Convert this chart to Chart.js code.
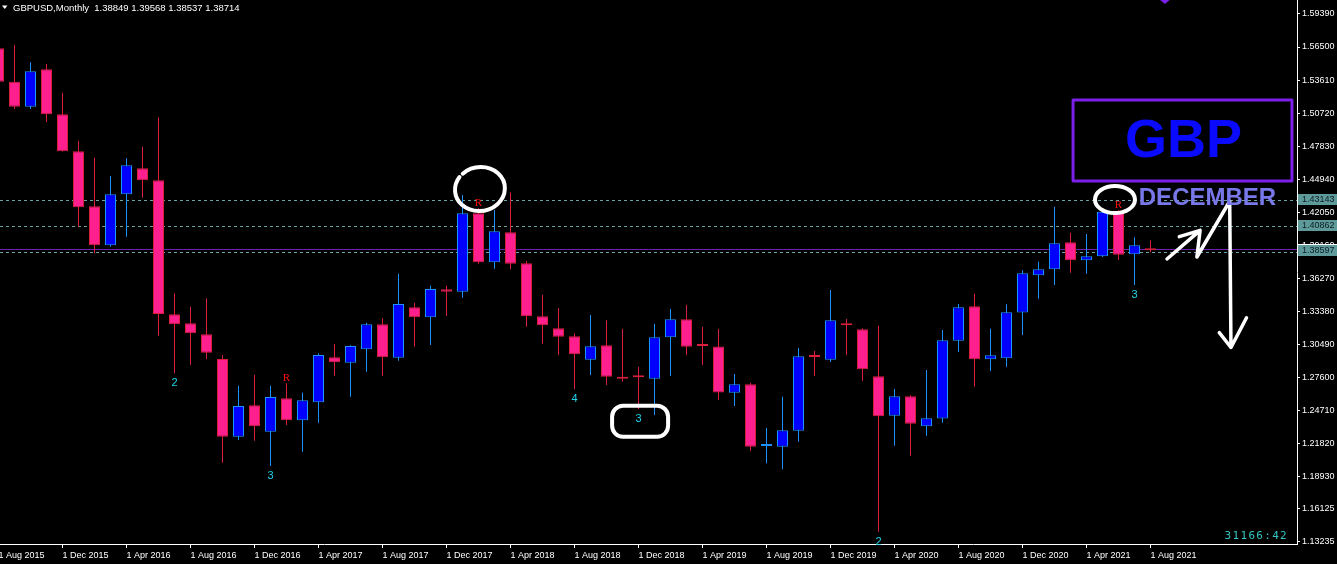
<!DOCTYPE html>
<html lang="en">
<head>
<meta charset="UTF-8">
<title>GBPUSD, Monthly</title>
<script src="https://cdn.jsdelivr.net/npm/chart.js"></script>
<style>
  html, body { margin: 0; padding: 0; background: #000; overflow: hidden; }
  canvas { display: block; }
</style>
</head>
<body>
<canvas id="chart" width="1337" height="564"></canvas>
<script>
// one candle per month, Aug 2015 .. Aug 2021
const months = [
  'Aug 2015','Sep 2015','Oct 2015','Nov 2015','Dec 2015',
  'Jan 2016','Feb 2016','Mar 2016','Apr 2016','May 2016','Jun 2016','Jul 2016','Aug 2016','Sep 2016','Oct 2016','Nov 2016','Dec 2016',
  'Jan 2017','Feb 2017','Mar 2017','Apr 2017','May 2017','Jun 2017','Jul 2017','Aug 2017','Sep 2017','Oct 2017','Nov 2017','Dec 2017',
  'Jan 2018','Feb 2018','Mar 2018','Apr 2018','May 2018','Jun 2018','Jul 2018','Aug 2018','Sep 2018','Oct 2018','Nov 2018','Dec 2018',
  'Jan 2019','Feb 2019','Mar 2019','Apr 2019','May 2019','Jun 2019','Jul 2019','Aug 2019','Sep 2019','Oct 2019','Nov 2019','Dec 2019',
  'Jan 2020','Feb 2020','Mar 2020','Apr 2020','May 2020','Jun 2020','Jul 2020','Aug 2020','Sep 2020','Oct 2020','Nov 2020','Dec 2020',
  'Jan 2021','Feb 2021','Mar 2021','Apr 2021','May 2021','Jun 2021','Jul 2021','Aug 2021'
];
const open = [
  1.5639,1.5346,1.5128,1.5455,1.5061,
  1.4737,1.4256,1.3915,1.4361,1.4589,1.4483,1.3311,1.3232,1.3136,1.2919,1.2239,1.2514,
  1.2283,1.2575,1.2383,1.2540,1.2934,1.2887,1.3004,1.3223,1.2931,1.3372,1.3284,1.3529,
  1.3508,1.4195,1.3766,1.4028,1.3757,1.3293,1.3188,1.3118,1.2913,1.3039,1.2764,1.2764,
  1.2747,1.3109,1.3267,1.3042,1.3029,1.2625,1.2698,1.2158,1.2152,1.2292,1.2946,1.2913,
  1.3232,1.3179,1.2768,1.2423,1.2593,1.2330,1.2398,1.3080,1.3381,1.2917,1.2925,1.3326,
  1.3652,1.3704,1.3941,1.3783,1.3818,1.4209,1.3836,1.38849
];
const high = [
  1.5800,1.5668,1.5516,1.5501,1.5250,
  1.4830,1.4681,1.4521,1.4676,1.4778,1.5035,1.3494,1.3377,1.3451,1.2954,1.2686,1.2782,
  1.2686,1.2707,1.2624,1.2969,1.3051,1.3040,1.3237,1.3276,1.3666,1.3412,1.3561,1.3561,
  1.4355,1.4241,1.4224,1.4378,1.3777,1.3482,1.3366,1.3144,1.3304,1.3258,1.3182,1.2852,
  1.3228,1.3357,1.3392,1.3202,1.3182,1.2788,1.2712,1.2315,1.2589,1.3016,1.2989,1.3523,
  1.3269,1.3188,1.3211,1.2657,1.2602,1.2823,1.3173,1.3401,1.3491,1.3185,1.3398,1.3696,
  1.3771,1.4252,1.4025,1.4013,1.4234,1.4224,1.3985,1.39568
];
const low = [
  1.5330,1.5108,1.5108,1.4994,1.4735,
  1.4077,1.3845,1.3902,1.3990,1.4331,1.3123,1.2794,1.2867,1.2917,1.2012,1.2210,1.2204,
  1.1983,1.2342,1.2108,1.2362,1.2773,1.2589,1.2808,1.2773,1.2904,1.3027,1.3042,1.3296,
  1.3456,1.3754,1.3710,1.3704,1.3202,1.3053,1.2954,1.2654,1.2779,1.2692,1.2721,1.2479,
  1.2429,1.2771,1.2954,1.2867,1.2561,1.2508,1.2114,1.2006,1.1954,1.2196,1.2771,1.2893,
  1.2954,1.2727,1.1408,1.2161,1.2073,1.2248,1.2362,1.2981,1.2677,1.2814,1.2852,1.3129,
  1.3447,1.3567,1.3675,1.3666,1.3812,1.3786,1.3567,1.38537
];
const close = [
  1.5346,1.5128,1.5437,1.5061,1.4737,
  1.4247,1.3915,1.4361,1.4615,1.4483,1.3313,1.3223,1.3144,1.2974,1.2239,1.2508,1.2330,
  1.2587,1.2383,1.2558,1.2954,1.2890,1.3033,1.3223,1.2934,1.3401,1.3284,1.3532,1.3508,
  1.4195,1.3766,1.4037,1.3754,1.3293,1.3214,1.3115,1.2961,1.3031,1.2764,1.2747,1.2759,
  1.3109,1.3267,1.3027,1.3033,1.2626,1.2698,1.2152,1.2162,1.2295,1.2943,1.2937,1.3258,
  1.3214,1.2829,1.2418,1.2593,1.2353,1.2400,1.3083,1.3372,1.2917,1.2952,1.3328,1.3669,
  1.3704,1.3932,1.3783,1.3818,1.4209,1.3832,1.3915,1.38714
];

// axis ticks
const xTickIdx = [0,4,8,12,16,20,24,28,32,36,40,44,48,52,56,60,64,68,72];
const xTickLabels = ['1 Aug 2015','1 Dec 2015','1 Apr 2016','1 Aug 2016','1 Dec 2016','1 Apr 2017','1 Aug 2017',
  '1 Dec 2017','1 Apr 2018','1 Aug 2018','1 Dec 2018','1 Apr 2019','1 Aug 2019','1 Dec 2019','1 Apr 2020',
  '1 Aug 2020','1 Dec 2020','1 Apr 2021','1 Aug 2021'];
const yTicks = [1.13235,1.16125,1.18930,1.21820,1.24710,1.27600,1.30490,1.33380,1.36270,1.39160,
  1.42050,1.44940,1.47830,1.50720,1.53610,1.56500,1.59390];

// horizontal levels drawn on the chart
const levels = [1.43143, 1.40862, 1.38597];

// indicator marks: "R" above, wave numbers below
const rIdx = [18, 30, 70];
const waveIdx = [11, 17, 36, 40, 55, 71];
const waveText = ['2', '3', '4', '3', '2', '3'];

const BULL_FILL = '#0000ff', BULL_LINE = '#1e90ff';
const BEAR_FILL = '#ff1f8e', BEAR_LINE = '#d8203c';

const isBull = close.map((c, i) => c >= open[i]);

const overlay = {
  id: 'overlay',
  beforeDatasetsDraw(chart) {
    const { ctx, chartArea, scales: { y } } = chart;
    ctx.save();
    ctx.lineWidth = 1;
    ctx.strokeStyle = '#6aa3a3';
    ctx.setLineDash([3, 3]);
    levels.forEach(v => {
      const py = Math.round(y.getPixelForValue(v)) + 0.5;
      ctx.beginPath(); ctx.moveTo(chartArea.left, py); ctx.lineTo(chartArea.right, py); ctx.stroke();
    });
    ctx.setLineDash([]);
    // last close line
    ctx.strokeStyle = '#6c1fb0';
    const cy = Math.round(y.getPixelForValue(close[close.length - 1])) - 0.5;
    ctx.beginPath(); ctx.moveTo(chartArea.left, cy); ctx.lineTo(chartArea.right, cy); ctx.stroke();
    ctx.restore();
  },
  afterDatasetsDraw(chart) {
    const { ctx, scales: { x, y } } = chart;
    const px = i => x.getPixelForValue(i);
    const py = v => y.getPixelForValue(v);
    ctx.save();
    ctx.textAlign = 'center';
    ctx.textBaseline = 'middle';

    // R marks
    ctx.fillStyle = '#ff1010';
    ctx.font = '11px "Liberation Serif"';
    rIdx.forEach(i => ctx.fillText('R', px(i), py(high[i]) - 5));

    // wave numbers
    ctx.fillStyle = '#22d4ea';
    ctx.font = '11px "Liberation Sans"';
    waveIdx.forEach((i, k) => ctx.fillText(waveText[k], px(i), py(low[i]) + 10));

    // hand drawn white marks
    ctx.strokeStyle = '#ffffff';
    ctx.lineWidth = 4;
    ctx.lineCap = 'round';
    ctx.lineJoin = 'round';
    ctx.beginPath();
    ctx.ellipse(px(30.09), py(1.4407), 25, 22, -0.15, -2.2, -2.2 + Math.PI * 2 - 0.2);
    ctx.stroke();
    ctx.beginPath();
    ctx.ellipse(px(69.78), py(1.4315), 20, 13.5, 0, 0, Math.PI * 2);
    ctx.stroke();
    ctx.beginPath();
    ctx.roundRect(px(38.35), py(1.2510), 56, 31, 11);
    ctx.stroke();

    // arrows
    ctx.lineWidth = 3.5;
    ctx.beginPath();
    ctx.moveTo(px(73.03), py(1.3795)); ctx.lineTo(px(75.1), py(1.4045));
    ctx.moveTo(px(73.8), py(1.3990)); ctx.lineTo(px(75.1), py(1.4045)); ctx.lineTo(px(74.9), py(1.3812));
    ctx.moveTo(px(74.9), py(1.3812)); ctx.lineTo(px(76.95), py(1.4300));
    ctx.lineTo(px(77.03), py(1.3020));
    ctx.moveTo(px(76.3), py(1.3150)); ctx.lineTo(px(77.03), py(1.3020)); ctx.lineTo(px(78.0), py(1.3280));
    ctx.stroke();

    // GBP box
    const bx1 = px(67.16), bx2 = px(80.84), by1 = py(1.5186), by2 = py(1.4477);
    ctx.strokeStyle = '#7c1fe8';
    ctx.lineWidth = 3;
    ctx.strokeRect(bx1, by1, bx2 - bx1, by2 - by1);
    ctx.fillStyle = '#0a0aff';
    ctx.font = 'bold 54px "Liberation Sans"';
    ctx.fillText('GBP', (bx1 + bx2) / 2 + 1, (by1 + by2) / 2 + 2);

    ctx.fillStyle = '#7878ea';
    ctx.font = 'bold 24px "Liberation Sans"';
    ctx.fillText('DECEMBER', px(75.56), py(1.4322));

    // small purple marker at top
    ctx.fillStyle = '#7c1fe8';
    ctx.beginPath(); ctx.moveTo(px(72.6), 0); ctx.lineTo(px(73.2), 0); ctx.lineTo(px(72.9), 4); ctx.closePath(); ctx.fill();
    ctx.restore();
  },
  afterDraw(chart) {
    const { ctx, chartArea, scales: { y } } = chart;
    ctx.save();
    ctx.font = '9px "Liberation Sans"';
    ctx.textBaseline = 'middle';
    ctx.textAlign = 'left';
    const ax = chartArea.right + 1;

    // hidden bid box + level labels on the price axis
    const cy = Math.round(y.getPixelForValue(close[close.length - 1]));
    ctx.fillStyle = '#000';
    ctx.fillRect(ax, cy - 5.5, 40, 13);
    ctx.fillStyle = '#ffffff';
    ctx.fillRect(ax, cy - 6, 40, 1);
    levels.forEach(v => {
      const py = Math.round(y.getPixelForValue(v));
      ctx.fillStyle = '#5f9a9a';
      ctx.fillRect(ax, v === levels[2] ? cy - 5 : py - 6, 40, 11);
      ctx.fillStyle = '#0c1e24';
      ctx.fillText(v.toFixed(5), ax + 4, v === levels[2] ? cy + 0.5 : py - 0.5);
    });

    // header
    ctx.fillStyle = '#ffffff';
    ctx.font = '9.5px "Liberation Sans"';
    ctx.fillText('GBPUSD,Monthly  ' + [open, high, low, close].map(a => a[a.length - 1].toFixed(5)).join(' '), 13, 8);
    ctx.beginPath(); ctx.moveTo(2, 5.5); ctx.lineTo(7.5, 5.5); ctx.lineTo(4.75, 9); ctx.closePath(); ctx.fill();

    // counter at bottom right
    ctx.fillStyle = '#33c4c4';
    ctx.font = '11px "DejaVu Sans Mono"';
    ctx.textAlign = 'right';
    ctx.letterSpacing = '1.3px';
    ctx.fillText('31166:42', chartArea.right - 9, chartArea.bottom - 8);
    ctx.restore();
  }
};

new Chart(document.getElementById('chart').getContext('2d'), {
  type: 'bar',
  data: {
    datasets: [
      {
        label: 'body',
        data: months.map((m, i) => ({ x: i, y: [open[i], close[i]] })),
        backgroundColor: isBull.map(b => b ? BULL_FILL : BEAR_FILL),
        borderColor: isBull.map(b => b ? BULL_LINE : BEAR_LINE),
        borderWidth: 1,
        borderSkipped: false,
        barThickness: 11,
        minBarLength: 2,
        inflateAmount: 0,
        grouped: false,
        order: 1
      },
      {
        label: 'wick',
        data: months.map((m, i) => ({ x: i, y: [low[i], high[i]] })),
        backgroundColor: isBull.map(b => b ? BULL_LINE : BEAR_LINE),
        borderWidth: 0,
        barThickness: 1,
        inflateAmount: 0,
        grouped: false,
        order: 2
      }
    ]
  },
  plugins: [overlay],
  options: {
    responsive: false,
    animation: false,
    devicePixelRatio: 1,
    layout: { padding: 0 },
    plugins: { legend: { display: false }, tooltip: { enabled: false }, title: { display: false } },
    scales: {
      x: {
        type: 'linear',
        position: 'bottom',
        min: 0.09375,
        max: 81.15625,
        bounds: 'data',
        offset: false,
        grid: { drawOnChartArea: false, drawTicks: true, tickLength: 4, color: '#ffffff', offset: false },
        border: { display: true, color: '#ffffff', width: 1 },
        ticks: {
          autoSkip: false, maxRotation: 0, minRotation: 0, align: 'start', padding: 2,
          color: '#ffffff', font: { family: 'Liberation Sans', size: 9 },
          callback: (v, i) => xTickLabels[i]
        },
        afterBuildTicks: s => { s.ticks = xTickIdx.map(v => ({ value: v })); },
        afterFit: s => { s.height = 20; s.paddingLeft = 0; s.paddingRight = 0; }
      },
      y: {
        type: 'linear',
        position: 'right',
        min: 1.13001,
        max: 1.60615,
        bounds: 'data',
        grid: { drawOnChartArea: false, drawTicks: true, tickLength: 3, color: '#ffffff' },
        border: { display: true, color: '#ffffff', width: 1 },
        ticks: {
          padding: 2, color: '#ffffff', font: { family: 'Liberation Sans', size: 9 },
          callback: v => v.toFixed(5)
        },
        afterBuildTicks: s => { s.ticks = yTicks.map(v => ({ value: v })); },
        afterFit: s => { s.width = 40; s.paddingTop = 0; s.paddingBottom = 0; }
      }
    }
  }
});
</script>
</body>
</html>
